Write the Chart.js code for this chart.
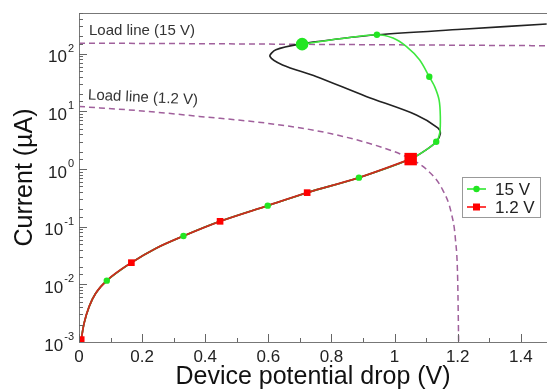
<!DOCTYPE html>
<html>
<head>
<meta charset="utf-8">
<script src="https://cdn.jsdelivr.net/npm/chart.js@4/dist/chart.umd.min.js"></script>
<style>
  html, body { margin: 0; padding: 0; background: #fff; }
  #wrap { width: 547px; height: 392px; }
</style>
</head>
<body>
<div id="wrap"><canvas id="c"></canvas></div>
<script>
// Werte: [Spannung (V), Strom (µA)]
const lowerBranch = [
  [0.007, 0.0011], [0.016, 0.0021], [0.032, 0.0041], [0.053, 0.0070],
  [0.088, 0.0116], [0.166, 0.0238], [0.243, 0.042], [0.331, 0.069],
  [0.447, 0.124], [0.598, 0.232], [0.723, 0.39], [0.887, 0.71], [1.051, 1.49],
];
const curve15VUpper = [
  [1.100, 2.15], [1.132, 2.97], [1.143, 4.2], [1.145, 8.2], [1.141, 15.9],
  [1.127, 27], [1.110, 40], [1.079, 78.7], [1.037, 134], [0.995, 187],
  [0.944, 214], [0.825, 182], [0.707, 147],
];
const deviceUpper = [
  [1.100, 2.15], [1.132, 2.97], [1.145, 4.1], [1.137, 5.2], [1.069, 8.7],
  [0.910, 18.2], [0.751, 40.4], [0.645, 64], [0.605, 90], [0.624, 117],
  [0.698, 147], [0.825, 182], [0.944, 214], [1.213, 266], [1.482, 328],
];
const loadLine15V = [[0, 153], [0.35, 150], [0.7, 146], [1.1, 142], [1.48, 138]];
const loadLine12V = [
  [0, 12.2], [0.2, 10.2], [0.381, 8.2], [0.6, 6.2], [0.8, 4.1], [1.0, 2.0],
  [1.05, 1.5], [1.1, 1.0], [1.152, 0.44], [1.18, 0.17], [1.193, 0.059],
  [1.2, 0.012], [1.203, 0.001],
];
const markers15V = [
  [0.088, 0.0116], [0.331, 0.069], [0.598, 0.232], [0.887, 0.71],
  [1.132, 2.97], [1.110, 40], [0.944, 214],
];
const markers12V = [[0.007, 0.0011], [0.166, 0.0238], [0.447, 0.124], [0.723, 0.39]];
const endPoint15V = [[0.707, 147]];
const endPoint12V = [[1.051, 1.49]];
const seriesNames = ['15 V', '1.2 V'];
const loadLineLabels = ['Load line (15 V)', 'Load line (1.2 V)'];
const xTickLabels = ['0', '0.2', '0.4', '0.6', '0.8', '1', '1.2', '1.4'];
const yDecades = [-3, -2, -1, 0, 1, 2];

const pts = (arr) => arr.map(([x, y]) => ({ x, y }));

const GREEN = '#22e622';
const RED = '#ff0000';
const PURPLE = '#a0609c';
const FONT = '"Liberation Sans", Arial, sans-serif';

// Rahmen, nach innen zeigende Ticks, y-Beschriftung mit Exponent, Legende
const decorations = {
  id: 'decorations',
  afterDraw(chart) {
    const { ctx, chartArea: a, scales } = chart;
    const xs = scales.x, ys = scales.y;
    ctx.save();
    ctx.strokeStyle = '#777';
    ctx.lineWidth = 1;
    ctx.strokeRect(a.left + 0.5, a.top + 0.5, a.right - a.left, a.bottom - a.top);

    // x-Ticks
    ctx.strokeStyle = '#666';
    ctx.beginPath();
    for (let i = 0; i <= 14; i++) {
      const px = Math.round(xs.getPixelForValue(i / 10)) + 0.5;
      const len = i % 2 === 0 ? 8 : 4;
      ctx.moveTo(px, a.bottom);
      ctx.lineTo(px, a.bottom - len);
    }
    // y-Ticks (Log-Skala der Library)
    ys.ticks.forEach((t) => {
      const v = t.value;
      const lg = Math.log10(v);
      const major = Math.abs(lg - Math.round(lg)) < 1e-6;
      const py = Math.round(ys.getPixelForValue(v)) + 0.5;
      if (py < a.top || py > a.bottom) return;
      ctx.moveTo(a.left, py);
      ctx.lineTo(a.left + (major ? 8 : 4), py);
    });
    ctx.stroke();

    // y-Beschriftung 10^n
    ctx.fillStyle = '#222';
    ctx.textBaseline = 'middle';
    yDecades.forEach((d) => {
      const py = ys.getPixelForValue(Math.pow(10, d));
      const exp = String(d);
      ctx.font = '11px ' + FONT;
      const ew = ctx.measureText(exp).width;
      const right = a.left - 5;
      ctx.textAlign = 'left';
      ctx.fillText(exp, right - ew, py - 5);
      ctx.font = '17px ' + FONT;
      ctx.textAlign = 'right';
      ctx.fillText('10', right - ew - 1, py + 4);
    });

    // Load-line-Beschriftungen
    ctx.fillStyle = '#333';
    ctx.font = '15px ' + FONT;
    ctx.textAlign = 'left';
    ctx.fillText(loadLineLabels[0], a.left + 10, ys.getPixelForValue(250));
    ctx.save();
    ctx.translate(a.left + 9, ys.getPixelForValue(19));
    ctx.rotate(0.045);
    ctx.fillText(loadLineLabels[1], 0, 0);
    ctx.restore();

    // Legende
    const lx = 462, ly = 177, lw = 78, lh = 40;
    ctx.fillStyle = '#fff';
    ctx.fillRect(lx, ly, lw, lh);
    ctx.strokeStyle = '#999';
    ctx.strokeRect(lx + 0.5, ly + 0.5, lw, lh);
    const rows = [
      { name: seriesNames[0], color: GREEN, shape: 'circle', y: ly + 12 },
      { name: seriesNames[1], color: RED, shape: 'rect', y: ly + 30 },
    ];
    rows.forEach((r) => {
      ctx.strokeStyle = r.color;
      ctx.lineWidth = 1.5;
      ctx.beginPath();
      ctx.moveTo(lx + 5, r.y);
      ctx.lineTo(lx + 24, r.y);
      ctx.stroke();
      ctx.fillStyle = r.color;
      if (r.shape === 'circle') {
        ctx.beginPath();
        ctx.arc(lx + 14.5, r.y, 3.2, 0, Math.PI * 2);
        ctx.fill();
      } else {
        ctx.fillRect(lx + 11, r.y - 3.5, 7, 7);
      }
      ctx.fillStyle = '#222';
      ctx.font = '17px ' + FONT;
      ctx.textAlign = 'left';
      ctx.fillText(r.name, lx + 33, r.y + 1);
    });
    ctx.restore();
  },
};

new Chart(document.getElementById('c'), {
  type: 'scatter',
  data: {
    datasets: [
      { data: pts(endPoint12V), pointStyle: 'rect', pointRadius: 8.8, backgroundColor: RED, borderWidth: 0, showLine: false },
      { data: pts(endPoint15V), pointStyle: 'circle', pointRadius: 6.3, backgroundColor: GREEN, borderWidth: 0, showLine: false },
      { data: pts(markers12V), pointStyle: 'rect', pointRadius: 4.7, backgroundColor: RED, borderWidth: 0, showLine: false },
      { data: pts(markers15V), pointStyle: 'circle', pointRadius: 3.2, backgroundColor: GREEN, borderWidth: 0, showLine: false },
      { data: pts(lowerBranch), showLine: true, borderColor: '#cc2a1e', borderWidth: 1.8, pointRadius: 0, cubicInterpolationMode: 'monotone' },
      { data: pts(lowerBranch.concat(curve15VUpper)), showLine: true, borderColor: '#3ee83e', borderWidth: 1.6, pointRadius: 0, tension: 0.3 },
      { data: pts(lowerBranch.concat(deviceUpper)), showLine: true, borderColor: '#222', borderWidth: 1.6, pointRadius: 0, tension: 0.3 },
      { data: pts(loadLine15V), showLine: true, borderColor: PURPLE, borderWidth: 1.5, borderDash: [6, 4], pointRadius: 0, cubicInterpolationMode: 'monotone' },
      { data: pts(loadLine12V), showLine: true, borderColor: PURPLE, borderWidth: 1.5, borderDash: [6, 4], pointRadius: 0, cubicInterpolationMode: 'monotone' },
    ],
  },
  options: {
    responsive: true,
    maintainAspectRatio: false,
    animation: false,
    events: [],
    layout: { autoPadding: false, padding: { top: 13, right: 0, bottom: 0, left: 0 } },
    scales: {
      x: {
        type: 'linear',
        min: 0,
        max: 1.483,
        grid: { display: false, drawTicks: false },
        border: { display: false },
        afterBuildTicks: (s) => {
          s.ticks = xTickLabels.map((l) => ({ value: Number(l) }));
        },
        ticks: {
          autoSkip: false,
          maxRotation: 0,
          padding: 5,
          color: '#222',
          font: { family: FONT, size: 17 },
          callback: (v, i) => xTickLabels[i],
        },
        title: {
          display: true,
          text: 'Device potential drop (V)',
          color: '#111',
          font: { family: FONT, size: 25 },
          padding: { top: 0, bottom: 0 },
        },
        afterFit: (s) => { s.height = 50; s.paddingRight = 0; },
      },
      y: {
        type: 'logarithmic',
        min: 0.001,
        max: 510,
        grid: { display: false, drawTicks: false },
        border: { display: false },
        ticks: { display: false },
        title: {
          display: true,
          text: 'Current (µA)',
          color: '#111',
          font: { family: FONT, size: 25 },
          padding: { top: 10, bottom: 0 },
        },
        afterFit: (s) => { s.width = 79; },
      },
    },
    plugins: {
      legend: { display: false },
      tooltip: { enabled: false },
    },
  },
  plugins: [decorations],
});
</script>
</body>
</html>
